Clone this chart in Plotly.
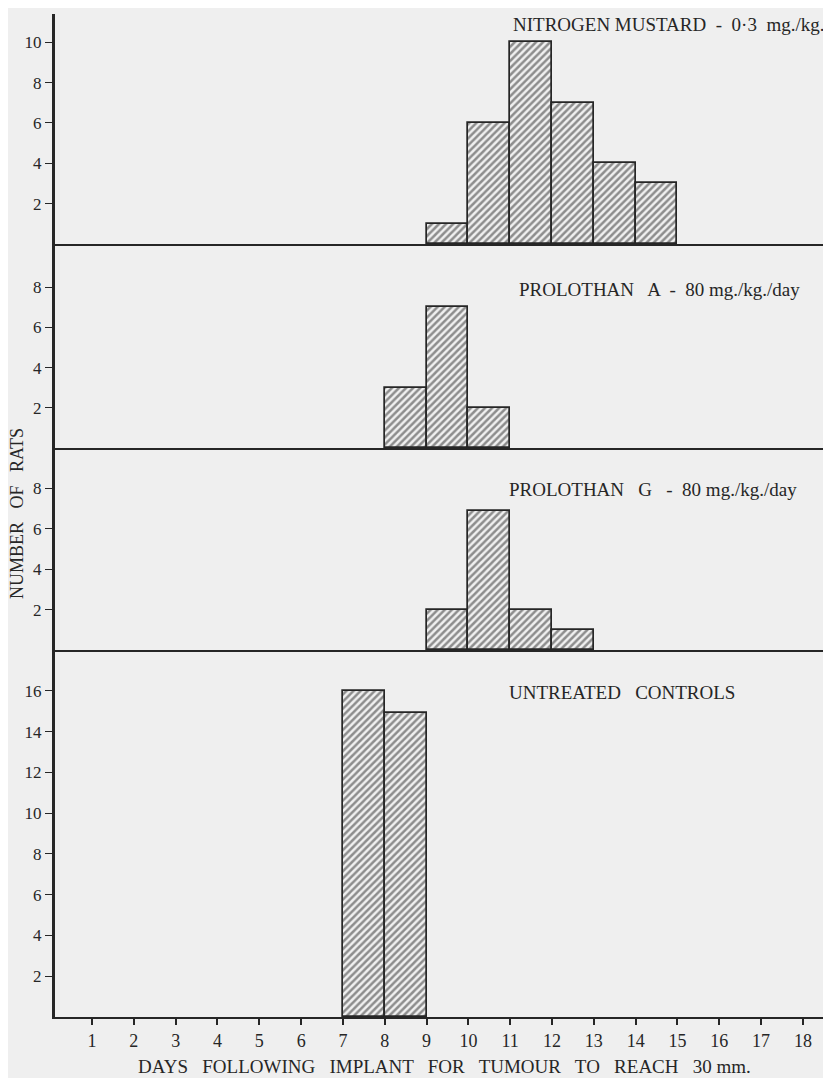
import plotly.graph_objects as go

# ---- data (day interval start, number of rats) ----
nm_days = [9, 10, 11, 12, 13, 14]
nm_counts = [1, 6, 10, 7, 4, 3]

pa_days = [8, 9, 10]
pa_counts = [3, 7, 2]

pg_days = [9, 10, 11, 12]
pg_counts = [2, 6.9, 2, 1]

uc_days = [7, 8]
uc_counts = [16, 14.9]

panel_labels = [
    "NITROGEN MUSTARD  -  0·3  mg./kg.",
    "PROLOTHAN   A  -  80 mg./kg./day",
    "PROLOTHAN   G   -  80 mg./kg./day",
    "UNTREATED   CONTROLS",
]
x_ticks = list(range(1, 19))
y_ticks = [[2, 4, 6, 8, 10], [2, 4, 6, 8], [2, 4, 6, 8], [2, 4, 6, 8, 10, 12, 14, 16]]
x_title = "DAYS   FOLLOWING   IMPLANT   FOR   TUMOUR   TO   REACH   30 mm."
y_title = "NUMBER   OF   RATS"

# ---- styling ----
OFF = 8                      # page body margin around the figure
PAGE_W, PAGE_H = 831, 1078
PL, PR, PT, PB = 55, 828, 14, 1017   # plot area in page pixels
W, H = PAGE_W - OFF, PAGE_H - OFF
ML, MT = PL - OFF, PT - OFF
MR = PAGE_W - PR
MB = PAGE_H - PB
BG = "#efefef"
INK = "#262626"
FONT = "Liberation Serif"

plot_h = PB - PT
plot_w = PR - PL


def py(pix):
    return (PB - pix) / plot_h


def pxx(pix):
    return (pix - PL) / plot_w


baselines = [244, 448, 650, 1017]
tops = [PT, 244, 448, 650]
yranges = [11.4, 10.15, 10.0, 18.0]

series = [(nm_days, nm_counts), (pa_days, pa_counts), (pg_days, pg_counts), (uc_days, uc_counts)]

fig = go.Figure()
for i, (d, c) in enumerate(series):
    n = i + 1
    fig.add_trace(go.Bar(
        x=d, y=c, offset=0, width=1,
        xaxis="x" if n == 1 else f"x{n}",
        yaxis="y" if n == 1 else f"y{n}",
        marker=dict(
            color=BG,
            line=dict(color=INK, width=1.7),
            pattern=dict(shape="/", fgcolor="#2a2a2a", bgcolor="#f0f0f0", size=5, solidity=0.5),
        ),
        showlegend=False,
        hoverinfo="skip",
    ))

layout = dict(
    width=W, height=H,
    margin=dict(l=ML, r=MR, t=MT, b=MB),
    paper_bgcolor=BG, plot_bgcolor=BG,
    bargap=0,
    font=dict(family=FONT, color=INK, size=14),
)

for i in range(4):
    n = i + 1
    xa = "xaxis" if n == 1 else f"xaxis{n}"
    ya = "yaxis" if n == 1 else f"yaxis{n}"
    bottom = i == 3
    layout[xa] = dict(
        domain=[0, 1],
        anchor="y" if n == 1 else f"y{n}",
        range=[0.114, 18.6],
        showgrid=False, zeroline=False,
        showline=True, linecolor=INK, linewidth=2.2,
        tickvals=x_ticks if bottom else [],
        ticks="outside" if bottom else "",
        ticklen=6, tickwidth=1.6, tickcolor=INK,
        showticklabels=bottom,
        tickfont=dict(family=FONT, size=18, color=INK),
        fixedrange=True,
    )
    if n > 1:
        layout[xa]["matches"] = "x"
    layout[ya] = dict(
        domain=[py(baselines[i]), py(tops[i])],
        anchor="x" if n == 1 else f"x{n}",
        range=[0, yranges[i]],
        showgrid=False, zeroline=False,
        showline=True, linecolor=INK, linewidth=3,
        tickvals=y_ticks[i],
        ticks="outside", ticklen=7, tickwidth=1.4, tickcolor=INK,
        tickfont=dict(family=FONT, size=17, color=INK),
        fixedrange=True,
    )

fig.update_layout(**layout)

# (x page pixel, y page pixel, x anchor)
label_pos = [(826, 24, "right"), (517, 289, "left"), (507, 490, "left"), (507, 692, "left")]
for (lx, ly, anc), txt in zip(label_pos, panel_labels):
    fig.add_annotation(
        x=pxx(lx), y=py(ly), xref="paper", yref="paper",
        text=txt, showarrow=False, xanchor=anc, yanchor="middle",
        font=dict(family=FONT, size=19, color=INK),
    )

fig.add_annotation(
    x=pxx(444), y=py(1066), xref="paper", yref="paper",
    text=x_title, showarrow=False, xanchor="center", yanchor="middle",
    font=dict(family=FONT, size=19, color=INK),
)
fig.add_annotation(
    x=pxx(17), y=py(514), xref="paper", yref="paper",
    text=y_title, showarrow=False, textangle=-90,
    xanchor="center", yanchor="middle",
    font=dict(family=FONT, size=18, color=INK),
)

fig.write_html("out.html")
